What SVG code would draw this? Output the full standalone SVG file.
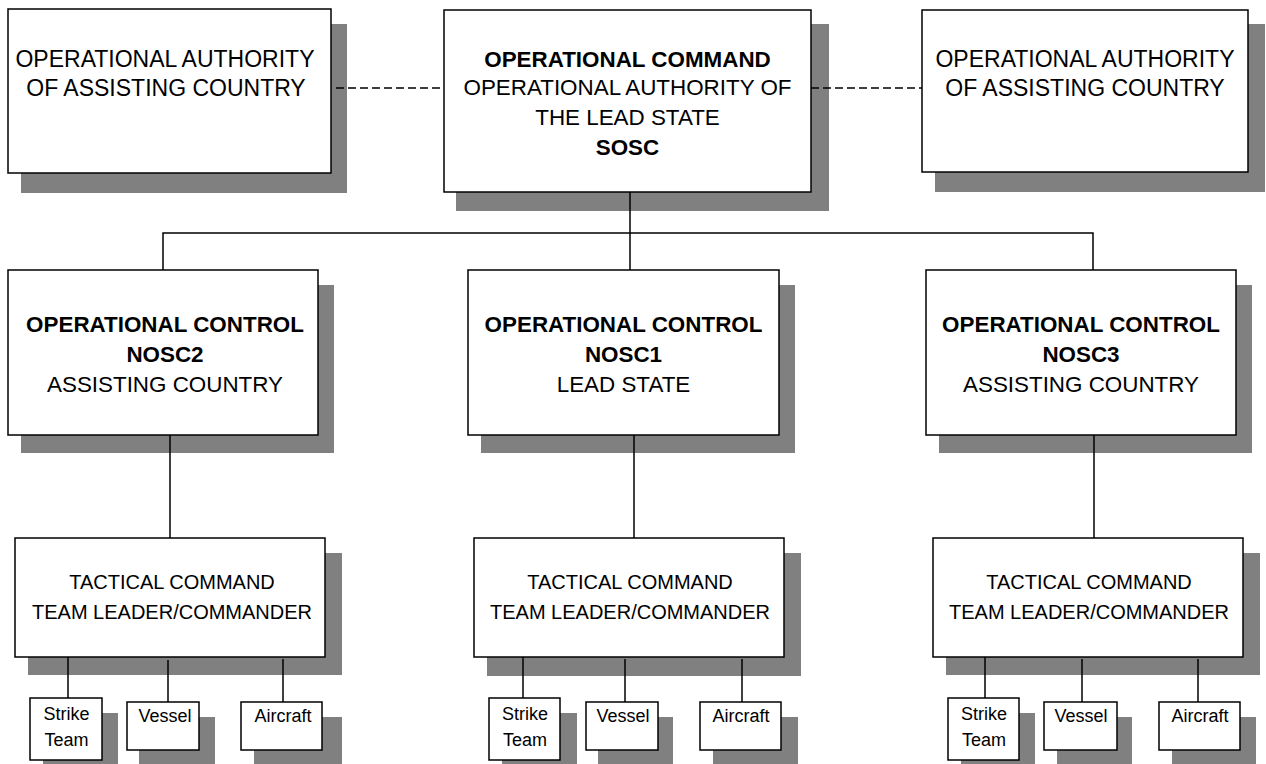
<svg xmlns="http://www.w3.org/2000/svg" width="1266" height="764" viewBox="0 0 1266 764">
<style>
.box{fill:#fff;stroke:#000;stroke-width:1.5}
.sh{fill:#808080}
.ln{stroke:#000;stroke-width:1.5;fill:none}
.dash{stroke:#000;stroke-width:1.5;stroke-dasharray:8 4;fill:none}
text{font-family:"Liberation Sans",Arial,sans-serif;fill:#000;text-anchor:middle}
.t23{font-size:23px}
.t22{font-size:22.4px}
.b{font-weight:bold}
.t20{font-size:20px}
.t18{font-size:18px}
</style>
<rect width="1266" height="764" fill="#fff"/>
<g id="auth-left">
<rect class="sh" x="21" y="24" width="326" height="169"/>
<rect class="box" x="8" y="9" width="323" height="164"/>
<text class="t23" x="165" y="67">OPERATIONAL AUTHORITY</text>
<text class="t23" x="166" y="96">OF ASSISTING COUNTRY</text>
</g>
<g id="op-command">
<rect class="sh" x="456" y="24" width="373" height="187"/>
<rect class="box" x="444" y="10" width="367" height="182"/>
<text class="t22 b" x="627.5" y="67">OPERATIONAL COMMAND</text>
<text class="t22" x="627.5" y="95">OPERATIONAL AUTHORITY OF</text>
<text class="t22" x="627.5" y="125">THE LEAD STATE</text>
<text class="t22 b" x="627.5" y="155">SOSC</text>
</g>
<g id="auth-right">
<rect class="sh" x="935" y="24" width="330" height="168"/>
<rect class="box" x="922" y="10" width="326" height="162"/>
<text class="t23" x="1085" y="67">OPERATIONAL AUTHORITY</text>
<text class="t23" x="1085" y="96">OF ASSISTING COUNTRY</text>
</g>
<g id="nosc2">
<rect class="sh" x="21" y="285" width="313" height="168"/>
<rect class="box" x="8" y="270" width="310" height="165"/>
<text class="t22 b" x="165" y="332">OPERATIONAL CONTROL</text>
<text class="t22 b" x="165" y="362">NOSC2</text>
<text class="t22" x="165" y="392">ASSISTING COUNTRY</text>
</g>
<g id="nosc1">
<rect class="sh" x="481" y="285" width="314" height="168"/>
<rect class="box" x="468" y="270" width="311" height="165"/>
<text class="t22 b" x="623.5" y="332">OPERATIONAL CONTROL</text>
<text class="t22 b" x="623.5" y="362">NOSC1</text>
<text class="t22" x="623.5" y="392">LEAD STATE</text>
</g>
<g id="nosc3">
<rect class="sh" x="939" y="285" width="313" height="168"/>
<rect class="box" x="926" y="270" width="310" height="165"/>
<text class="t22 b" x="1081" y="332">OPERATIONAL CONTROL</text>
<text class="t22 b" x="1081" y="362">NOSC3</text>
<text class="t22" x="1081" y="392">ASSISTING COUNTRY</text>
</g>
<g id="tac-left">
<rect class="sh" x="28" y="553" width="314" height="122"/>
<rect class="box" x="15" y="538" width="310" height="119"/>
<text class="t20" x="172" y="589">TACTICAL COMMAND</text>
<text class="t20" x="172" y="619">TEAM LEADER/COMMANDER</text>
</g>
<g id="tac-center">
<rect class="sh" x="487" y="553" width="314" height="123"/>
<rect class="box" x="474" y="538" width="310" height="119"/>
<text class="t20" x="630" y="589">TACTICAL COMMAND</text>
<text class="t20" x="630" y="619">TEAM LEADER/COMMANDER</text>
</g>
<g id="tac-right">
<rect class="sh" x="946" y="553" width="314" height="122"/>
<rect class="box" x="933" y="538" width="310" height="119"/>
<text class="t20" x="1089" y="589">TACTICAL COMMAND</text>
<text class="t20" x="1089" y="619">TEAM LEADER/COMMANDER</text>
</g>
<g id="strike-left">
<rect class="sh" x="43" y="713" width="75" height="60"/>
<rect class="box" x="30" y="698" width="72" height="62"/>
<text class="t18" x="66.5" y="720">Strike</text>
<text class="t18" x="66.5" y="746">Team</text>
</g>
<g id="vessel-left">
<rect class="sh" x="139" y="717" width="76" height="60"/>
<rect class="box" x="127" y="702" width="72" height="48"/>
<text class="t18" x="165" y="722">Vessel</text>
</g>
<g id="aircraft-left">
<rect class="sh" x="254" y="717" width="88" height="60"/>
<rect class="box" x="241" y="702" width="81" height="48"/>
<text class="t18" x="283" y="722">Aircraft</text>
</g>
<g id="strike-center">
<rect class="sh" x="502" y="713" width="75" height="60"/>
<rect class="box" x="489" y="698" width="71" height="62"/>
<text class="t18" x="525" y="720">Strike</text>
<text class="t18" x="525" y="746">Team</text>
</g>
<g id="vessel-center">
<rect class="sh" x="598" y="717" width="75" height="60"/>
<rect class="box" x="586" y="702" width="72" height="48"/>
<text class="t18" x="623" y="722">Vessel</text>
</g>
<g id="aircraft-center">
<rect class="sh" x="713" y="717" width="85" height="60"/>
<rect class="box" x="700" y="702" width="81" height="48"/>
<text class="t18" x="741" y="722">Aircraft</text>
</g>
<g id="strike-right">
<rect class="sh" x="961" y="713" width="74" height="60"/>
<rect class="box" x="948" y="698" width="71" height="62"/>
<text class="t18" x="984" y="720">Strike</text>
<text class="t18" x="984" y="746">Team</text>
</g>
<g id="vessel-right">
<rect class="sh" x="1057" y="717" width="75" height="60"/>
<rect class="box" x="1044" y="702" width="73" height="48"/>
<text class="t18" x="1081" y="722">Vessel</text>
</g>
<g id="aircraft-right">
<rect class="sh" x="1172" y="717" width="84" height="60"/>
<rect class="box" x="1159" y="702" width="81" height="48"/>
<text class="t18" x="1200" y="722">Aircraft</text>
</g>
<g id="connectors">
<line class="dash" x1="336" y1="88" x2="444" y2="88"/>
<line class="dash" x1="811" y1="88" x2="922" y2="88"/>
<line class="ln" x1="630" y1="192" x2="630" y2="233"/>
<polyline class="ln" points="163,270 163,233 1093,233 1093,270"/>
<line class="ln" x1="630" y1="233" x2="630" y2="270"/>
<line class="ln" x1="170" y1="435" x2="170" y2="538"/>
<line class="ln" x1="634" y1="435" x2="634" y2="538"/>
<line class="ln" x1="1094" y1="435" x2="1094" y2="538"/>
<line class="ln" x1="68" y1="657" x2="68" y2="698"/>
<line class="ln" x1="168" y1="660" x2="168" y2="702"/>
<line class="ln" x1="283" y1="659" x2="283" y2="702"/>
<line class="ln" x1="523" y1="657" x2="523" y2="698"/>
<line class="ln" x1="625" y1="659" x2="625" y2="702"/>
<line class="ln" x1="742" y1="659" x2="742" y2="702"/>
<line class="ln" x1="985" y1="657" x2="985" y2="698"/>
<line class="ln" x1="1082" y1="659" x2="1082" y2="702"/>
<line class="ln" x1="1198" y1="659" x2="1198" y2="702"/>
</g>
</svg>
